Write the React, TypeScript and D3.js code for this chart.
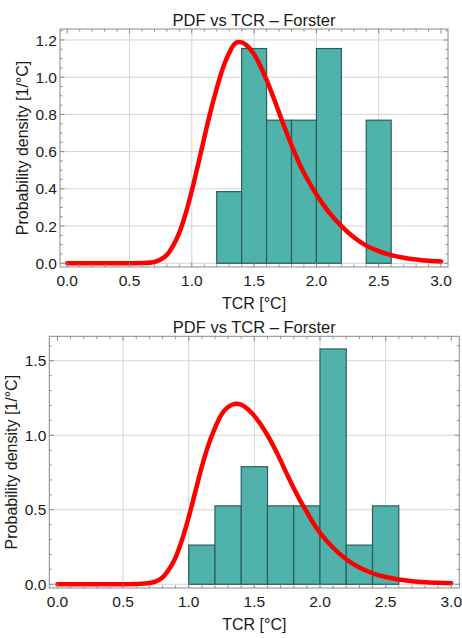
import React, { useEffect, useRef } from 'react'
import * as d3 from 'd3'

// histogram bins (left edges + last right edge) and densities
const binEdgesTop = [1.2, 1.4, 1.6, 1.8, 2.0, 2.2, 2.4, 2.6]
const densityTop = [0.385, 1.154, 0.769, 0.769, 1.154, 0, 0.769]

const binEdgesBottom = [1.0, 1.2, 1.4, 1.6, 1.8, 2.0, 2.2, 2.4, 2.6]
const densityBottom = [0.263, 0.526, 0.789, 0.526, 0.526, 1.579, 0.263, 0.526]

// red pdf curve, sampled by eye
const pdfX = [0, 0.3, 0.6, 0.7, 0.75, 0.8, 0.85, 0.9, 0.95, 1.0, 1.05, 1.1, 1.15, 1.2, 1.25, 1.3, 1.35, 1.4, 1.45, 1.5,
  1.55, 1.6, 1.65, 1.7, 1.75, 1.8, 1.85, 1.9, 1.95, 2.0, 2.1, 2.2, 2.3, 2.4, 2.5, 2.6, 2.7, 2.8, 2.9, 3.0]
const pdfTop = [0, 0, 0.001, 0.007, 0.02, 0.045, 0.095, 0.165, 0.265, 0.39, 0.53, 0.675, 0.815, 0.94, 1.05, 1.13, 1.183, 1.187, 1.165, 1.123,
  1.06, 0.985, 0.9, 0.81, 0.72, 0.635, 0.555, 0.485, 0.425, 0.37, 0.275, 0.2, 0.14, 0.095, 0.065, 0.044, 0.03, 0.02, 0.013, 0.009]
const pdfBottom = [0, 0, 0.002, 0.008, 0.019, 0.045, 0.1, 0.18, 0.3, 0.45, 0.62, 0.79, 0.935, 1.05, 1.14, 1.19, 1.21, 1.205, 1.175, 1.13,
  1.07, 1.0, 0.92, 0.83, 0.735, 0.645, 0.56, 0.485, 0.41, 0.345, 0.245, 0.168, 0.112, 0.074, 0.049, 0.032, 0.021, 0.014, 0.01, 0.007]

const xTicks = [0, 0.5, 1.0, 1.5, 2.0, 2.5, 3.0]
const yTicksTop = [0, 0.2, 0.4, 0.6, 0.8, 1.0, 1.2]
const yTicksBottom = [0, 0.5, 1.0, 1.5]

const title = 'PDF vs TCR \u2013 Forster'
const xLabel = 'TCR [°C]'
const yLabel = 'Probability density [1/°C]'

const font = '"Liberation Sans", Arial, sans-serif'

export default function App() {
  const ref = useRef(null)

  const drawPanel = (svg, p) => {
    const x = d3.scaleLinear().domain(p.xDom).range([p.left, p.right])
    const y = d3.scaleLinear().domain(p.yDom).range([p.bottom, p.top])
    const g = svg.append('g')

    // grid
    g.append('g').attr('stroke', '#d4d4d4').attr('stroke-width', 1)
      .selectAll('line').data(xTicks.filter(t => t > 0 && t < 3)).join('line')
      .attr('x1', d => x(d)).attr('x2', d => x(d)).attr('y1', p.top).attr('y2', p.bottom)
    g.append('g').attr('stroke', '#d4d4d4').attr('stroke-width', 1)
      .selectAll('line').data(p.yTicks).join('line')
      .attr('x1', p.left).attr('x2', p.right).attr('y1', d => y(d)).attr('y2', d => y(d))

    // bars
    const bars = p.density.map((v, i) => ({ x0: p.edges[i], x1: p.edges[i + 1], v })).filter(d => d.v > 0)
    g.append('g').selectAll('rect').data(bars).join('rect')
      .attr('x', d => x(d.x0)).attr('width', d => x(d.x1) - x(d.x0))
      .attr('y', d => y(d.v)).attr('height', d => y(0) - y(d.v))
      .attr('fill', '#4fb3ab').attr('stroke', '#2a5e5a').attr('stroke-width', 1.2)

    // pdf curve
    const line = d3.line().x(d => x(d[0])).y(d => y(d[1])).curve(d3.curveCatmullRom)
    g.append('path').datum(pdfX.map((v, i) => [v, p.pdf[i]]))
      .attr('d', line).attr('fill', 'none').attr('stroke', '#ff0000')
      .attr('stroke-width', 4.5).attr('stroke-linecap', 'round')

    // frame
    g.append('rect').attr('x', p.left).attr('y', p.top)
      .attr('width', p.right - p.left).attr('height', p.bottom - p.top)
      .attr('fill', 'none').attr('stroke', '#8a8a8a').attr('stroke-width', 1)

    // ticks on all sides, inward
    const xMinor = d3.range(0, 31).map(i => i / 10)
    const yMinor = d3.range(0, Math.round(p.yDom[1] / p.yMinorStep) + 1).map(i => i * p.yMinorStep)
    const isMajor = (v, arr) => arr.some(t => Math.abs(t - v) < 1e-6)
    const tg = g.append('g').attr('stroke', '#8a8a8a').attr('stroke-width', 1)
    xMinor.forEach(v => {
      const len = isMajor(v, xTicks) ? 4.5 : 2.5
      tg.append('line').attr('x1', x(v)).attr('x2', x(v)).attr('y1', p.bottom).attr('y2', p.bottom - len)
      tg.append('line').attr('x1', x(v)).attr('x2', x(v)).attr('y1', p.top).attr('y2', p.top + len)
    })
    yMinor.filter(v => y(v) > p.top).forEach(v => {
      const len = isMajor(v, p.yTicks) ? 4.5 : 2.5
      tg.append('line').attr('x1', p.left).attr('x2', p.left + len).attr('y1', y(v)).attr('y2', y(v))
      tg.append('line').attr('x1', p.right).attr('x2', p.right - len).attr('y1', y(v)).attr('y2', y(v))
    })

    // tick labels
    g.append('g').attr('font-family', font).attr('font-size', 15.5).attr('fill', '#1a1a1a')
      .attr('text-anchor', 'middle')
      .selectAll('text').data(xTicks).join('text')
      .attr('x', d => x(d)).attr('y', p.bottom + 18.5).text(d => d3.format('.1f')(d))
    g.append('g').attr('font-family', font).attr('font-size', 15.5).attr('fill', '#1a1a1a')
      .attr('text-anchor', 'end')
      .selectAll('text').data(p.yTicks).join('text')
      .attr('x', p.left - 3).attr('y', d => y(d)).attr('dy', '0.36em').text(d => d3.format('.1f')(d))

    // titles
    const cx = (p.left + p.right) / 2
    g.append('text').attr('x', cx).attr('y', p.top - 3.5).attr('text-anchor', 'middle')
      .attr('font-family', font).attr('font-size', 16.5).attr('fill', '#1a1a1a').text(title)
    g.append('text').attr('x', cx).attr('y', p.bottom + 42).attr('text-anchor', 'middle')
      .attr('font-family', font).attr('font-size', 16).attr('fill', '#1a1a1a').text(xLabel)
    g.append('text').attr('transform', `translate(${p.yLabelX},${(p.top + p.bottom) / 2}) rotate(-90)`)
      .attr('text-anchor', 'middle')
      .attr('font-family', font).attr('font-size', 16).attr('fill', '#1a1a1a').text(yLabel)
  }

  useEffect(() => {
    const svg = d3.select(ref.current)
    svg.selectAll('*').remove()

    drawPanel(svg, {
      left: 60, right: 448, top: 29, bottom: 267,
      xDom: [-0.058, 3.056], yDom: [-0.02, 1.259],
      edges: binEdgesTop, density: densityTop, pdf: pdfTop,
      yTicks: yTicksTop, yMinorStep: 0.05, yLabelX: 28,
    })
    drawPanel(svg, {
      left: 49.3, right: 459.3, top: 336.3, bottom: 588,
      xDom: [-0.062, 3.061], yDom: [-0.025, 1.664],
      edges: binEdgesBottom, density: densityBottom, pdf: pdfBottom,
      yTicks: yTicksBottom, yMinorStep: 0.1, yLabelX: 17,
    })
  }, [])

  return (
    <div style={{ position: 'absolute', left: 0, top: 0 }}>
      <svg ref={ref} width={462} height={638} style={{ display: 'block', background: '#fff' }} />
    </div>
  )
}
